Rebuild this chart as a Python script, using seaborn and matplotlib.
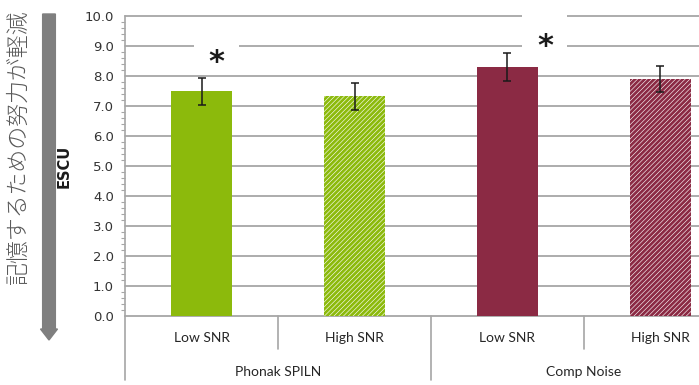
import matplotlib
matplotlib.use("Agg")
import matplotlib.pyplot as plt
import matplotlib.ticker as mticker
from matplotlib.patches import FancyArrow, Rectangle
import numpy as np
import pandas as pd
import seaborn as sns

# --- data -------------------------------------------------------------
groups = ["Phonak SPILN", "Phonak SPILN", "Comp Noise", "Comp Noise"]
conditions = ["Low SNR", "High SNR", "Low SNR", "High SNR"]
escu = [7.50, 7.33, 8.30, 7.90]
escu_err = [0.45, 0.45, 0.48, 0.43]
group_names = ["Phonak SPILN", "Comp Noise"]
bar_colors = ["#8CBA0C", "#8CBA0C", "#8B2A44", "#8B2A44"]
hatched = [False, True, False, True]
star_x = [0.10, 2.245]
star_y = [8.67, 9.18]
y_label = "ESCU"
side_label = "記憶するための努力が軽減"

df = pd.DataFrame({
    "key": [f"{g}|{c}" for g, c in zip(groups, conditions)],
    "group": groups,
    "condition": conditions,
    "escu": escu,
})

# --- figure -----------------------------------------------------------
sns.set_style("white")
plt.rcParams["hatch.linewidth"] = 2.0
W, H = 699, 385
fig = plt.figure(figsize=(W / 100, H / 100), dpi=100)
ax = fig.add_axes([125 / W, 1 - 316 / H, 1 - 125 / W, 300 / H])

sns.barplot(data=df, x="key", y="escu", hue="key", palette=bar_colors,
            width=0.405, errorbar=None, legend=False, ax=ax, saturation=1)

centers = []
for patch, col, hat in zip(ax.patches, bar_colors, hatched):
    patch.set_linewidth(0)
    if hat:
        patch.set_facecolor("white")
        patch.set_edgecolor(col)
        patch.set_hatch("///////")
    centers.append(patch.get_x() + patch.get_width() / 2)

ax.errorbar(centers, escu, yerr=escu_err, fmt="none", ecolor="#1a1a1a",
            elinewidth=1.1, capsize=3.2, capthick=1.1, zorder=4)

# axes limits and grid
ax.set_ylim(0, 10)
ax.set_xlim(-0.5, -0.5 + (W - 125) / 153.0)
ax.yaxis.set_major_locator(mticker.MultipleLocator(1.0))
ax.yaxis.set_minor_locator(mticker.MultipleLocator(0.2))
ax.yaxis.set_major_formatter(mticker.FormatStrFormatter("%.1f"))
ax.set_axisbelow(True)
ax.grid(axis="y", color="#a6a6a6", linewidth=1.3)
for gl in ax.get_ygridlines():
    gl.set_clip_on(False)
for side in ["top", "right", "bottom"]:
    ax.spines[side].set_visible(False)
ax.spines["left"].set_color("#a6a6a6")
ax.spines["left"].set_linewidth(1.2)
ax.tick_params(axis="y", which="major", direction="out", length=5,
               width=1.0, color="#a6a6a6", pad=3, labelsize=9.5,
               labelcolor="#333333")
ax.tick_params(axis="y", which="minor", direction="out", length=3,
               width=0.8, color="#a6a6a6", left=True)
ax.tick_params(axis="x", bottom=False, labelbottom=False)
ax.set_xlabel("")
ax.set_ylabel("")

# two-level category axis below the plot
xt = ax.get_xaxis_transform()
line_kw = dict(color="#a6a6a6", linewidth=1.2, clip_on=False, transform=xt)
ax.plot([-0.5, -0.5], [0, -0.213], **line_kw)
for b in [0.5, 2.5]:
    ax.plot([b, b], [0, -0.11], **line_kw)
ax.plot([1.5, 1.5], [0, -0.213], **line_kw)
cat_font = dict(family="Lato", fontsize=10, color="#262626",
                ha="center", va="center", transform=xt, clip_on=False)
for i, c in enumerate(conditions):
    ax.text(i, -0.073, c, **cat_font)
for j, g in enumerate(group_names):
    ax.text(2 * j + 0.5, -0.187, g, **cat_font)

# significance markers, each on a white label box over the grid
for sx, sy in zip(star_x, star_y):
    ax.add_patch(Rectangle((sx - 0.147, sy - 0.4), 0.294, 1.4,
                           facecolor="white", edgecolor="none",
                           zorder=3, clip_on=False))
    ax.annotate("*", xy=(sx, sy), xytext=(0, -4.5),
                textcoords="offset points", fontsize=22, fontweight="bold",
                color="#1a1a1a", ha="center", va="center", zorder=5)

# axis titles and direction arrow
fig.text(64 / W, 1 - 166 / H, y_label, rotation=90, fontsize=10.5,
         fontweight="bold", color="#1a1a1a", ha="center", va="center",
         family="DejaVu Sans")
fig.text(18 / W, 1 - 148 / H, side_label, rotation=90, fontsize=16.5,
         color="#595959", ha="center", va="center", fontweight="light",
         family=["Noto Sans CJK JP", "DejaVu Sans"])
fig.add_artist(FancyArrow(49 / W, 1 - 14 / H, 0, -(326 / H),
                          width=7 / H, head_width=17 / W,
                          head_length=11 / H, length_includes_head=True,
                          color="#7f7f7f", transform=fig.transFigure))

fig.savefig("out.png", dpi=100)
